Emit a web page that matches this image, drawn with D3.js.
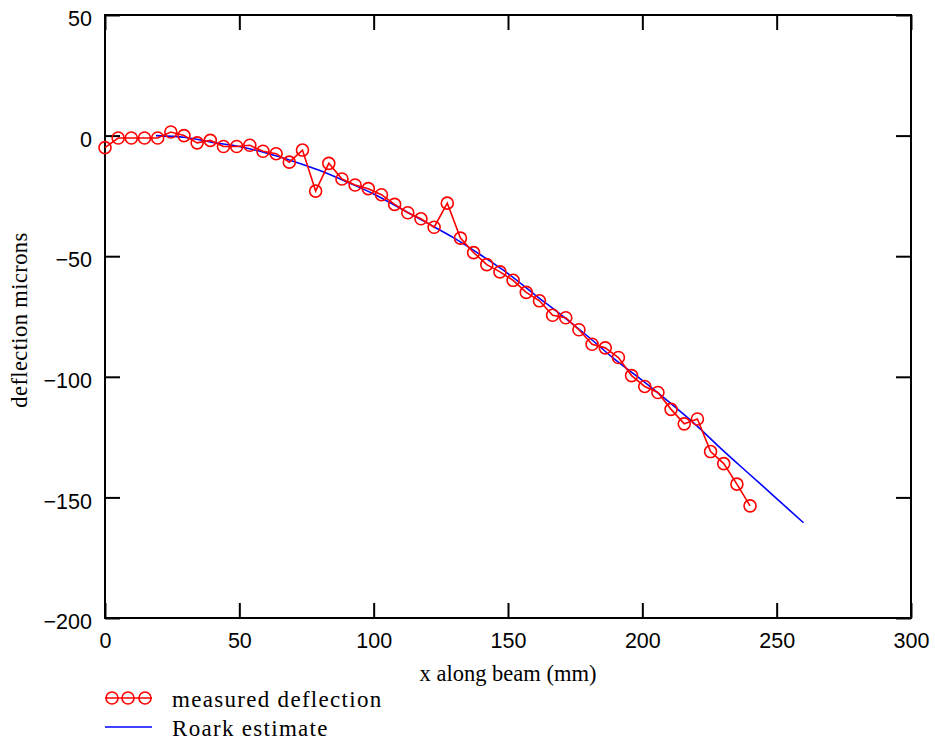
<!DOCTYPE html>
<html><head><meta charset="utf-8">
<script src="https://cdn.jsdelivr.net/npm/d3@7"></script>
<style>body{margin:0;background:#fff}svg{display:block}</style>
</head><body><svg id="c" width="935" height="744"></svg>
<script>
// ---- data ----
const xTicks = [0, 50, 100, 150, 200, 250, 300];
const yTicks = [50, 0, -50, -100, -150, -200];
const xTitle = "x along beam (mm)";
const yTitle = "deflection microns";
const seriesNames = ["measured deflection", "Roark estimate"];

const measuredX = [0, 4.9, 9.8, 14.7, 19.6, 24.5, 29.4, 34.3, 39.2, 44.1, 49, 53.9, 58.8, 63.7, 68.6, 73.5, 78.4, 83.3, 88.2, 93.1, 98, 102.9, 107.8, 112.7, 117.6, 122.5, 127.4, 132.3, 137.2, 142.1, 147, 151.9, 156.8, 161.7, 166.6, 171.5, 176.4, 181.3, 186.2, 191.1, 196, 200.9, 205.8, 210.7, 215.6, 220.5, 225.4, 230.3, 235.2, 240.1];
const measuredY = [-5, -1, -1, -1, -1, 1.5, 0, -3, -2, -4.5, -4.5, -4, -6.5, -7.5, -11, -6, -23, -11.5, -18, -20.5, -22, -24.5, -28.5, -32, -34.5, -38, -28, -42.5, -48.5, -53.5, -56.5, -60, -65, -68.5, -74.5, -75.5, -80.5, -86.5, -88, -92, -99.5, -104, -106.5, -113.5, -119.5, -117.5, -131, -136, -144.5, -153.5];

const roarkX = [19, 30, 40, 50, 60, 70, 80, 90, 100, 110, 120, 130, 140, 150, 160, 170, 180, 190, 200, 210, 220, 230, 240, 250, 260];
const roarkY = [0, -0.8, -2.8, -4.5, -7.2, -10.6, -14.5, -19.2, -24.2, -30.2, -36.3, -42.5, -49.6, -57.2, -66, -74.5, -83.5, -93, -101.5, -110.5, -120, -130.5, -140.5, -150.5, -160.5];

// ---- drawing ----
const svg = d3.select("#c");
const L = 105, R = 911, T = 15, B = 618;
const x = d3.scaleLinear().domain([0, 300]).range([L, R]);
const y = d3.scaleLinear().domain([-200, 50]).range([B, T]);
const tickFont = "'Liberation Sans','Arial',sans-serif";
const serif = "'Liberation Serif','Times New Roman',serif";
const fmt = d => (d < 0 ? "\u2212" + Math.abs(d) : String(d));

function styleAxis(g) {
  g.select(".domain").remove();
  g.selectAll(".tick line").attr("stroke", "#000").attr("stroke-width", 2);
}
svg.append("g").attr("transform", `translate(0,${B})`)
  .call(d3.axisBottom(x).tickValues(xTicks).tickSize(-15).tickPadding(20).tickFormat(fmt))
  .call(styleAxis)
  .call(g => g.selectAll("text").attr("font-family", tickFont).attr("font-size", 21.5).attr("fill", "#000").attr("dy", "0.45em"));
svg.append("g").attr("transform", `translate(0,${T})`)
  .call(d3.axisTop(x).tickValues(xTicks).tickSize(-15).tickFormat(""))
  .call(styleAxis);
svg.append("g").attr("transform", `translate(${L},0)`)
  .call(d3.axisLeft(y).tickValues(yTicks).tickSize(-15).tickPadding(13).tickFormat(fmt))
  .call(styleAxis)
  .call(g => g.selectAll("text").attr("font-family", tickFont).attr("font-size", 21.5).attr("fill", "#000").attr("dy", "0.5em"));
svg.append("g").attr("transform", `translate(${R},0)`)
  .call(d3.axisRight(y).tickValues(yTicks).tickSize(-15).tickFormat(""))
  .call(styleAxis);

svg.append("rect").attr("x", L).attr("y", T).attr("width", R - L).attr("height", B - T)
  .attr("fill", "none").attr("stroke", "#000").attr("stroke-width", 2);

const measured = measuredX.map((d, i) => [d, measuredY[i]]);
const roark = roarkX.map((d, i) => [d, roarkY[i]]);
const line = d3.line().x(d => x(d[0])).y(d => y(d[1]));
const smooth = d3.line().x(d => x(d[0])).y(d => y(d[1])).curve(d3.curveMonotoneX);

svg.append("path").attr("d", smooth(roark)).attr("fill", "none").attr("stroke", "#0000ff").attr("stroke-width", 1.6);
svg.append("path").attr("d", line(measured)).attr("fill", "none").attr("stroke", "#ff0000").attr("stroke-width", 1.6);
svg.append("g").selectAll("circle").data(measured).join("circle")
  .attr("cx", d => x(d[0])).attr("cy", d => y(d[1])).attr("r", 6)
  .attr("fill", "none").attr("stroke", "#ff0000").attr("stroke-width", 1.6);

// axis titles
svg.append("text").attr("x", (L + R) / 2).attr("y", 681).attr("text-anchor", "middle")
  .attr("font-family", serif).attr("font-size", 22.5).text(xTitle);
svg.append("text").attr("transform", `translate(27,${320}) rotate(-90)`).attr("text-anchor", "middle")
  .attr("font-family", serif).attr("font-size", 22.5).attr("letter-spacing", 0.4).text(yTitle);

// legend
const lg = svg.append("g");
lg.append("line").attr("x1", 105).attr("x2", 152).attr("y1", 698).attr("y2", 698).attr("stroke", "#ff0000").attr("stroke-width", 1.6);
lg.selectAll("circle").data([112, 128, 145]).join("circle").attr("cx", d => d).attr("cy", 698).attr("r", 6)
  .attr("fill", "none").attr("stroke", "#ff0000").attr("stroke-width", 1.6);
lg.append("line").attr("x1", 105).attr("x2", 152).attr("y1", 727).attr("y2", 727).attr("stroke", "#0000ff").attr("stroke-width", 1.6);
lg.append("text").attr("x", 172).attr("y", 707).attr("font-family", serif).attr("font-size", 23).attr("letter-spacing", 1.3).text(seriesNames[0]);
lg.append("text").attr("x", 172).attr("y", 736).attr("font-family", serif).attr("font-size", 23).attr("letter-spacing", 1.3).text(seriesNames[1]);
</script></body></html>
